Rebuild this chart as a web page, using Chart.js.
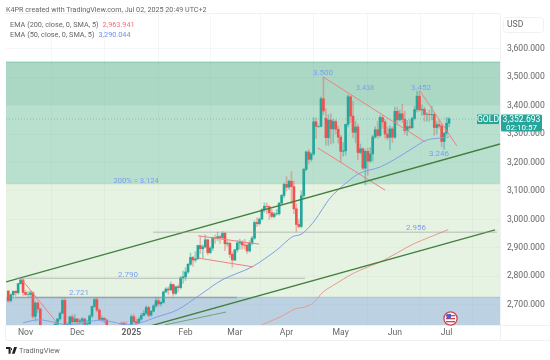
<!DOCTYPE html>
<html>
<head>
<meta charset="utf-8">
<title>GOLD daily</title>
<script src="https://cdn.jsdelivr.net/npm/chart.js@4"></script>
<style>
  html, body { margin: 0; padding: 0; background: #fff; }
  body { width: 550px; height: 360px; overflow: hidden; position: relative; font-family: Roboto, sans-serif; color: #666; }
  canvas { position: absolute; left: 0; top: 0; }
  .txt { position: absolute; white-space: nowrap; line-height: 1; }
</style>
</head>
<body>
<canvas id="goldChart" width="550" height="360"></canvas>
<div class="txt" style="left:6px;top:6px;font-size:7.2px">K4PR created with TradingView.com, Jul 02, 2025 20:49 UTC+2</div>
<div class="txt" style="left:10px;top:21px;font-size:7.3px">EMA (200, close, 0, SMA, 5)<span style="color:#f2707a;margin-left:4px">2,963.941</span></div>
<div class="txt" style="left:10px;top:30.5px;font-size:7.3px">EMA (50, close, 0, SMA, 5)<span style="color:#6f8ff0;margin-left:4px">3,290.044</span></div>
<div class="txt" style="left:19px;top:346.5px;font-size:7.4px;color:#666">TradingView</div>
<svg style="position:absolute;left:6px;top:347px" width="11" height="7" viewBox="0 0 13 8" preserveAspectRatio="none">
  <path d="M0 0h5.5v7.6H3V2.4H0zM7 7.6L9.6 0H13l-2.8 7.6z M6 1.2a1.2 1.2 0 1 0 .01 0z" fill="#222"/>
</svg>
<svg style="position:absolute;left:443px;top:311px" width="15" height="15" viewBox="0 0 15 15">
  <circle cx="7.5" cy="7.5" r="6.6" fill="#fff" stroke="#d8414c" stroke-width="1.3"/>
  <rect x="3" y="4" width="9" height="1.3" fill="#d8414c"/>
  <rect x="3" y="7" width="9" height="1.3" fill="#d8414c"/>
  <rect x="3" y="10" width="9" height="1.3" fill="#d8414c"/>
  <rect x="3.5" y="3" width="4.5" height="4.5" fill="#4a62c4"/>
</svg>
<script>
// daily candles, index 0 = Oct 23 2024
const opens = [2748,2714,2735,2747,2742,2774,2787,2743,2736,2736,2742,2659,2706,2685,2618,2598,2573,2565,2563,2612,
  2631,2650,2670,2715,2624,2631,2657,2640,2650,2640,2643,2650,2631,2633,2660,2694,2718,2681,2648,2652,
  2646,2586,2594,2622,2618,2622,2635,2634,2619,2606,2624,2658,2640,2636,2649,2662,2670,2690,2663,2677,
  2696,2714,2703,2708,2745,2755,2752,2771,2740,2763,2760,2794,2798,2815,2842,2866,2857,2861,2908,2897,
  2903,2928,2883,2899,2935,2934,2939,2936,2951,2914,2916,2877,2857,2893,2917,2919,2910,2909,2889,2916,
  2934,2989,2985,3001,3034,3046,3045,3023,3010,3019,3020,3057,3084,3123,3113,3134,3115,3037,2982,2975,
  3083,3176,3237,3211,3230,3343,3327,3327,3424,3355,3287,3349,3318,3344,3317,3289,3239,3241,3334,3431,
  3363,3306,3325,3235,3248,3180,3239,3205,3230,3290,3315,3295,3358,3343,3300,3288,3318,3289,3380,3350,
  3371,3352,3312,3326,3322,3355,3386,3433,3385,3387,3369,3369,3368,3369,3323,3333,3328,3274,3303,3338];
const highs = [2750,2738,2749,2750,2775,2790,2790,2750,2746,2750,2746,2710,2710,2688,2627,2615,2585,2575,2615,2639,
  2652,2674,2721,2722,2638,2660,2665,2665,2652,2650,2655,2652,2645,2665,2695,2722,2725,2685,2660,2655,
  2650,2605,2628,2630,2625,2630,2640,2640,2640,2630,2665,2665,2650,2655,2670,2680,2696,2695,2680,2700,
  2725,2725,2712,2748,2760,2762,2780,2773,2765,2770,2800,2818,2830,2845,2882,2870,2886,2910,2942,2910,
  2945,2930,2905,2938,2945,2955,2945,2957,2955,2925,2920,2885,2895,2925,2930,2925,2930,2915,2925,2940,
  2995,3005,3005,3038,3058,3058,3048,3035,3025,3035,3060,3088,3128,3150,3138,3168,3135,3055,3000,3100,
  3180,3240,3245,3235,3358,3357,3330,3430,3500,3390,3368,3372,3352,3350,3328,3295,3270,3335,3438,3435,
  3415,3345,3335,3265,3252,3245,3250,3252,3295,3325,3345,3365,3365,3350,3325,3330,3325,3395,3395,3385,
  3405,3380,3348,3350,3360,3398,3450,3452,3403,3395,3375,3385,3398,3375,3345,3350,3335,3305,3358,3358];
const lows = [2708,2709,2722,2730,2736,2772,2733,2732,2729,2726,2652,2643,2673,2610,2590,2572,2537,2536,2560,2610,
  2625,2645,2668,2615,2605,2625,2625,2635,2620,2630,2630,2625,2615,2630,2655,2690,2675,2645,2640,2635,
  2580,2585,2590,2610,2612,2610,2615,2615,2602,2605,2622,2635,2615,2635,2645,2660,2665,2657,2660,2675,
  2690,2695,2695,2705,2742,2735,2750,2730,2735,2745,2755,2775,2785,2810,2838,2835,2850,2860,2880,2865,
  2900,2875,2880,2890,2915,2925,2915,2930,2890,2905,2865,2832,2855,2885,2895,2895,2895,2880,2885,2910,
  2930,2975,2980,2998,3025,3020,3000,3005,3005,3015,3015,3055,3075,3100,3105,3055,3020,2956,2970,2970,
  3075,3170,3195,3205,3225,3285,3322,3325,3368,3260,3260,3265,3268,3300,3268,3202,3222,3225,3325,3340,
  3287,3270,3210,3230,3175,3121,3155,3200,3205,3285,3285,3290,3320,3285,3280,3245,3270,3285,3335,3345,
  3340,3300,3295,3315,3320,3350,3378,3380,3365,3345,3345,3345,3350,3295,3300,3320,3255,3246,3295,3325];
const closes = [2714,2735,2747,2742,2774,2787,2743,2736,2736,2742,2659,2706,2685,2618,2598,2573,2565,2563,2612,2631,
  2650,2670,2715,2624,2631,2657,2640,2650,2640,2643,2650,2631,2633,2660,2694,2718,2681,2648,2652,2646,
  2586,2594,2622,2618,2620,2613,2634,2619,2606,2624,2658,2640,2636,2649,2662,2670,2690,2663,2677,2696,
  2714,2703,2708,2745,2755,2752,2771,2740,2763,2760,2794,2798,2815,2842,2866,2857,2861,2908,2897,2903,
  2928,2883,2899,2935,2934,2939,2936,2951,2914,2916,2877,2857,2893,2917,2919,2910,2909,2889,2916,2934,
  2989,2985,3001,3034,3046,3045,3023,3010,3019,3020,3057,3084,3123,3113,3134,3115,3037,2982,2975,3083,
  3176,3237,3211,3230,3343,3327,3327,3424,3381,3287,3349,3318,3344,3317,3289,3239,3241,3334,3431,3363,
  3306,3325,3235,3248,3180,3239,3205,3230,3290,3315,3295,3358,3343,3300,3288,3318,3289,3380,3350,3371,
  3352,3312,3326,3322,3355,3386,3433,3385,3387,3369,3369,3368,3369,3323,3333,3328,3274,3303,3338,3353];

// moving averages, read at a few points along the curves
const ema50Idx = [6,10.8,14,19.8,23.8,32,37.3,42.5,48.2,53.5,60.4,68.5,77.8,86.8,99,109,115.2,119.3,124.6,130.7,137.6,142.9,151,157.9,164.4,170,176.6,179];
const ema50Val = [2636,2646,2646,2636,2629,2639,2646,2639,2629,2636,2657,2681,2734,2787,2833,2892,2938,2949,2998,3075,3131,3163,3184,3216,3251,3279,3287,3290];
const ema200Idx = [103,110.4,116.5,120.5,123.8,127.9,133.5,138.8,144.1,151,157.9,164.4,171.3,178.7];
const ema200Val = [2629,2657,2685,2692,2706,2745,2776,2804,2826,2850,2882,2913,2938,2964];

// drawn trend lines: [startIdx, startPrice, endIdx, endPrice]
const greenLines = [[-0.93,2780,199.7,3265],[57.6,2625,197.7,2963]];
const thinGreenLine = [63.6,2629,88.4,2674];
const redLines = [[5.6,2787,19.8,2636],[77.1,2942,101.9,2913],[77.1,2864,99.4,2833],[127.8,3501,169.3,3272],[125.7,3251,153,3103],[167.2,3451,182.2,3258]];
const greyLines = [[58.8,2955,198.5,2955],[3,2793,120.5,2793],[2.7,2725,93,2725]];

// zones: [bottom, top]
const zoneTop = [3402,3553];
const zoneMid = [3124,3553];
const zoneLight = [2726,3124];
const zoneBlue = [2600,2726];

const labelTexts = ['3.500','3.438','3.452','3.246','2.956','2.790','2.721','200% = 3.124'];
const labelIdx = [127.8,144.9,167.6,174.9,165.6,48.6,28.7,51.9];
const labelVals = [3513,3460,3462,3230,2970,2806,2742,3136];
const labelSizes = [8,7.2,8,8,8,8,8,7.6];

const priceTicks = [2700,2800,2900,3000,3100,3200,3300,3400,3500,3600];
const monthIdx = [7,28,50,72,92,113,135,157,178];
const monthNames = ['Nov','Dec','2025','Feb','Mar','Apr','May','Jun','Jul'];
const lastPrice = 3352.693;
const countdown = '02:10:57';

const xMin = -0.93, xMax = 199.7;
const yMin = 2628.6, yMax = 3722;

function zone(range, color) {
  return {
    type: 'line', order: 20, pointRadius: 0, borderWidth: 1, borderColor: color,
    backgroundColor: color,
    data: [{ x: xMin, y: range[1] }, { x: xMax, y: range[1] }],
    fill: { value: range[0] }
  };
}
function segment(s, color, width) {
  return {
    type: 'line', order: 2, pointRadius: 0, borderWidth: width, borderColor: color, fill: false,
    data: [{ x: s[0], y: s[1] }, { x: s[2], y: s[3] }]
  };
}
function curve(idx, vals, color) {
  return {
    type: 'line', order: 3, pointRadius: 0, borderWidth: 1, borderColor: color, fill: false, tension: 0.3,
    data: idx.map((x, i) => ({ x: x, y: vals[i] }))
  };
}

const up = opens.map((o, i) => closes[i] >= o);

const datasets = [
  zone(zoneBlue, 'rgba(140,177,205,0.58)'),
  zone(zoneLight, 'rgba(150,205,135,0.24)'),
  zone(zoneMid, 'rgba(70,170,130,0.38)'),
  zone(zoneTop, 'rgba(70,170,130,0.13)'),
  {
    type: 'bar', order: 6, grouped: false, barThickness: 1,
    data: opens.map((o, i) => ({ x: i, y: [lows[i], highs[i]] })),
    backgroundColor: up.map(u => u ? 'rgba(38,166,154,0.45)' : 'rgba(239,83,80,0.4)')
  },
  {
    type: 'bar', order: 5, grouped: false, barThickness: 2,
    data: opens.map((o, i) => ({ x: i, y: [o, closes[i]] })),
    backgroundColor: up.map(u => u ? '#26a69a' : '#ef5350')
  },
  curve(ema50Idx, ema50Val, '#7f9fe8'),
  curve(ema200Idx, ema200Val, '#e59a90')
];
greyLines.forEach((s, i) => datasets.push(segment(s, i === 2 ? 'rgba(150,150,150,0.75)' : 'rgba(150,150,150,0.6)', i === 2 ? 1.5 : 1)));
greenLines.forEach(s => datasets.push(segment(s, '#437f3f', 1.4)));
datasets.push(segment(thinGreenLine, 'rgba(67,127,63,0.6)', 1));
redLines.forEach(s => datasets.push(segment(s, '#ee8080', 1)));
const priceLine = segment([xMin, lastPrice, xMax, lastPrice], 'rgba(38,166,154,0.45)', 1);
priceLine.borderDash = [1, 2];
datasets.push(priceLine);

// text on the chart, frame lines and the price tag
const overlay = {
  id: 'overlay',
  afterDraw(chart) {
    const c = chart.ctx, xs = chart.scales.x, ys = chart.scales.y, a = chart.chartArea;
    c.save();
    c.textAlign = 'center';
    c.textBaseline = 'middle';
    labelTexts.forEach((t, i) => {
      c.font = labelSizes[i] + 'px Roboto';
      c.fillStyle = '#7b9ff0';
      c.fillText(t, xs.getPixelForValue(labelIdx[i]), ys.getPixelForValue(labelVals[i]));
    });

    c.strokeStyle = '#f0f1f5';
    c.lineWidth = 1;
    c.beginPath();
    c.moveTo(5.5, a.top - 0.5); c.lineTo(500.5, a.top - 0.5);
    c.moveTo(5.5, a.bottom + 0.5); c.lineTo(550, a.bottom + 0.5);
    c.moveTo(5.5, 340.5); c.lineTo(550, 340.5);
    c.moveTo(500.5, a.top); c.lineTo(500.5, 340);
    c.moveTo(5.5, a.bottom); c.lineTo(5.5, 340);
    c.stroke();

    // USD box
    c.strokeStyle = '#f0f1f5';
    c.beginPath();
    c.roundRect(503.5, 17.5, 40, 15, 3);
    c.stroke();
    c.fillStyle = '#666';
    c.font = '8.6px Roboto';
    c.textAlign = 'left';
    c.fillText('USD', 507, 25);

    // last price tag
    const y = ys.getPixelForValue(lastPrice);
    c.fillStyle = '#26a69a';
    c.fillRect(477, y - 4.5, 22, 9.5);
    c.beginPath();
    c.roundRect(501, y - 4.5, 41, 17, 1.5);
    c.fill();
    c.fillStyle = '#fff';
    c.font = '8.6px Roboto';
    c.textAlign = 'center';
    c.fillText('GOLD', 488, y + 0.5);
    c.fillText('3,352.693', 521.5, y + 0.5);
    c.font = '8px Roboto';
    c.fillText(countdown, 521.5, y + 8.5);
    c.restore();
  }
};

new Chart(document.getElementById('goldChart').getContext('2d'), {
  type: 'bar',
  data: { datasets: datasets },
  plugins: [overlay],
  options: {
    responsive: false,
    animation: false,
    events: [],
    layout: { padding: { left: 6, top: 14, right: 0, bottom: 20 } },
    plugins: { legend: { display: false }, tooltip: { enabled: false }, title: { display: false } },
    scales: {
      x: {
        type: 'linear', min: xMin, max: xMax, offset: false,
        grid: { color: 'rgba(0,0,0,0.035)', drawTicks: false },
        border: { display: false },
        afterBuildTicks(axis) { axis.ticks = monthIdx.map(v => ({ value: v })); },
        afterFit(axis) { axis.height = 15; },
        ticks: {
          padding: 3, maxRotation: 0, autoSkip: false,
          color: '#666',
          font(ctx) {
            return { family: 'Roboto', size: 8.6, weight: ctx.tick && ctx.tick.value === 50 ? 'bold' : 'normal' };
          },
          callback(v) { return monthNames[monthIdx.indexOf(v)]; }
        }
      },
      y: {
        type: 'linear', position: 'right', min: yMin, max: yMax,
        grid: { color: 'rgba(0,0,0,0.035)', drawTicks: false },
        border: { display: false },
        afterBuildTicks(axis) { axis.ticks = priceTicks.map(v => ({ value: v })); },
        afterFit(axis) { axis.width = 50; },
        ticks: {
          padding: 7, color: '#666', autoSkip: false,
          font: { family: 'Roboto', size: 8.6 },
          callback(v) { return v.toLocaleString('en-US', { minimumFractionDigits: 3, maximumFractionDigits: 3 }); }
        }
      }
    }
  }
});
</script>
</body>
</html>
